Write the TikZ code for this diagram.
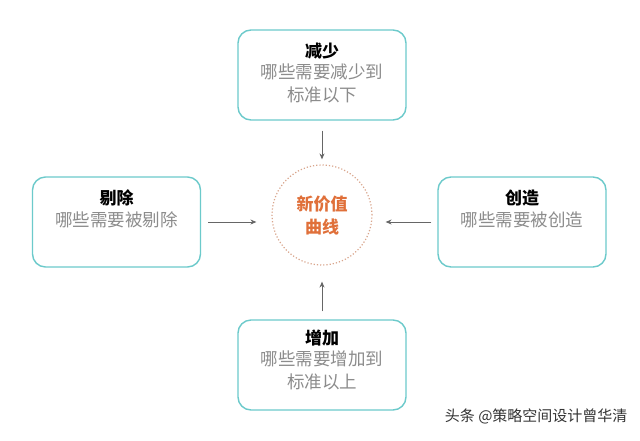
\documentclass[tikz,border=0pt]{standalone}
\usepackage{fontspec}
\newfontfamily\cjk{Noto Sans CJK SC}
\usetikzlibrary{arrows.meta}
\definecolor{boxc}{HTML}{6CCACB}
\definecolor{txtg}{HTML}{8C8C8C}
\definecolor{orng}{HTML}{E0703A}
\definecolor{dotc}{HTML}{D9A58C}
\definecolor{arrc}{HTML}{666666}
\tikzset{
  box/.style={draw=boxc, line width=1.4pt, rounded corners=13pt, minimum width=168pt, minimum height=90pt, inner sep=0pt},
  ttl/.style={font=\cjk\bfseries\fontsize{17}{20}\selectfont, text=black, inner sep=0pt},
  sub/.style={font=\cjk\fontsize{17.5}{23}\selectfont, text=txtg, inner sep=0pt, align=center},
  arr/.style={draw=arrc, line width=0.9pt, -{Stealth[length=6pt,width=5pt]}, shorten <=7pt, shorten >=15pt},
}
\begin{document}
\begin{tikzpicture}[x=1pt,y=-1pt]
\useasboundingbox[fill=white] (0,0) rectangle (640,440);
% boxes
\node[box] (top) at (322,75) {};
\node[box] (left) at (116.5,222) {};
\node[box] (right) at (522,222) {};
\node[box] (bot) at (322,365) {};
% circle
\node[circle, draw=dotc, dotted, line width=1.2pt, minimum size=100pt, inner sep=0pt] (c) at (322,215) {};
\node[font=\cjk\bfseries\fontsize{17}{23}\selectfont, text=orng, align=center] (ct) at (322,215) {新价值\\曲线};
% texts
\node[ttl] (topt) at (322,51) {减少};
\node[sub, anchor=north] (tops) at (322,64) {哪些需要减少到\\标准以下};
\node[ttl] (leftt) at (116.5,198) {剔除};
\node[sub] (lefts) at (116.5,220) {哪些需要被剔除};
\node[ttl] (rightt) at (522,198) {创造};
\node[sub] (rights) at (522,220) {哪些需要被创造};
\node[ttl] (bott) at (322,338) {增加};
\node[sub, anchor=north] (bots) at (322,351) {哪些需要增加到\\标准以上};
% arrows
\draw[arr, shorten <=10pt, shorten >=5pt] (top.south) -- (c.north);
\draw[arr] (left.east) -- (left.east -| c.west);
\draw[arr, shorten <=6pt, shorten >=13pt] (right.west) -- (right.west -| c.east);
\draw[arr, shorten <=8pt, shorten >=16pt] (bot.north) -- (c.south);
% watermark
\node[font=\cjk\fontsize{15}{17}\selectfont, text=black!80, anchor=east] (wm) at (631,416) {头条 @策略空间设计曾华清};
\end{tikzpicture}
\end{document}
